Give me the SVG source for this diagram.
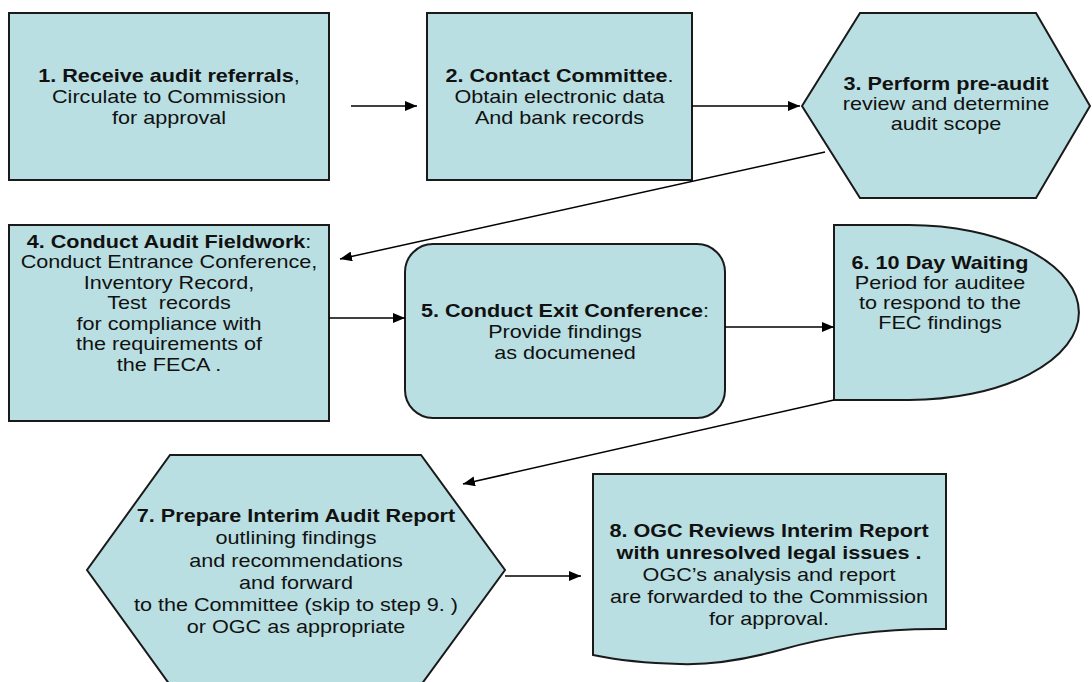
<svg xmlns="http://www.w3.org/2000/svg" width="1092" height="682" viewBox="0 0 1092 682">
<defs>
<marker id="ah" viewBox="0 0 12 10" refX="12" refY="5" markerWidth="12" markerHeight="10" markerUnits="userSpaceOnUse" orient="auto">
<path d="M0,0 L12,5 L0,10 Z" fill="#000"/>
</marker>
<style>
.n{fill:#B9DFE2;stroke:#1a1a1a;stroke-width:2}
.c{fill:none;stroke:#000;stroke-width:1.5}
.t{font-family:"Liberation Sans",Arial,sans-serif;font-size:18px;text-anchor:middle;fill:#111}
.b{font-weight:bold}
</style>
</defs>
<rect width="1092" height="682" fill="#fff"/>

<g id="node1">
<rect class="n" x="9" y="13" width="320" height="167"/>
<text class="t" transform="translate(169 0) scale(1.2 1)"><tspan x="0" y="82"><tspan class="b">1. Receive audit referrals</tspan>,</tspan><tspan x="0" y="103">Circulate to Commission</tspan><tspan x="0" y="124">for approval</tspan></text>
</g>

<g id="node2">
<rect class="n" x="427" y="13" width="265" height="167"/>
<text class="t" transform="translate(559.5 0) scale(1.2 1)"><tspan x="0" y="82"><tspan class="b">2. Contact Committee</tspan>.</tspan><tspan x="0" y="103">Obtain electronic data</tspan><tspan x="0" y="124">And bank records</tspan></text>
</g>

<g id="node3">
<polygon class="n" points="860,13 1036,13 1090,106 1036,198 860,198 802,106"/>
<text class="t" transform="translate(946 0) scale(1.2 1)"><tspan x="0" y="90" class="b">3. Perform pre-audit</tspan><tspan x="0" y="110">review and determine</tspan><tspan x="0" y="130">audit scope</tspan></text>
</g>

<g id="node4">
<rect class="n" x="9" y="225" width="320" height="196"/>
<text class="t" transform="translate(169 0) scale(1.2 1)"><tspan x="0" y="248"><tspan class="b">4. Conduct Audit Fieldwork</tspan>:</tspan><tspan x="0" y="268.5">Conduct Entrance Conference,</tspan><tspan x="0" y="289">Inventory Record,</tspan><tspan x="0" y="309.5">Test&#160; records</tspan><tspan x="0" y="330">for compliance with</tspan><tspan x="0" y="350.5">the requirements of</tspan><tspan x="0" y="371">the FECA .</tspan></text>
</g>

<g id="node5">
<rect class="n" x="405" y="244" width="320" height="174" rx="28" ry="28"/>
<text class="t" transform="translate(565 0) scale(1.2 1)"><tspan x="0" y="317"><tspan class="b">5. Conduct Exit Conference</tspan>:</tspan><tspan x="0" y="338">Provide findings</tspan><tspan x="0" y="359">as documened</tspan></text>
</g>

<g id="node6">
<path class="n" d="M834,225 H909 A170,87.5 0 0 1 909,400 H834 Z"/>
<text class="t" transform="translate(940 0) scale(1.2 1)"><tspan x="0" y="269" class="b">6. 10 Day Waiting</tspan><tspan x="0" y="289">Period for auditee</tspan><tspan x="0" y="309">to respond to the</tspan><tspan x="0" y="329">FEC findings</tspan></text>
</g>

<g id="node7">
<polygon class="n" points="170,455 421,455 505,570 421,685 170,685 87,570"/>
<text class="t" transform="translate(296 0) scale(1.2 1)"><tspan x="0" y="522" class="b">7. Prepare Interim Audit Report</tspan><tspan x="0" y="544">outlining findings</tspan><tspan x="0" y="567">and recommendations</tspan><tspan x="0" y="589">and forward</tspan><tspan x="0" y="611">to the Committee (skip to step 9. )</tspan><tspan x="0" y="633">or OGC as appropriate</tspan></text>
</g>

<g id="node8">
<path class="n" d="M593,474 H946 V629 C880,628 830,636 780,650 C740,661 710,665 680,664 C640,663 612,659 593,655 Z"/>
<text class="t" transform="translate(769 0) scale(1.2 1)"><tspan x="0" y="537" class="b">8. OGC Reviews Interim Report</tspan><tspan x="0" y="559" class="b">with unresolved legal issues .</tspan><tspan x="0" y="581">OGC’s analysis and report</tspan><tspan x="0" y="603">are forwarded to the Commission</tspan><tspan x="0" y="625">for approval.</tspan></text>
</g>

<g id="connectors">
<line class="c" x1="351" y1="106" x2="417" y2="106" marker-end="url(#ah)"/>
<line class="c" x1="692" y1="106" x2="800" y2="106" marker-end="url(#ah)"/>
<line class="c" x1="825" y1="152" x2="340" y2="259" marker-end="url(#ah)"/>
<line class="c" x1="329" y1="318" x2="405" y2="318" marker-end="url(#ah)"/>
<line class="c" x1="725" y1="327" x2="834" y2="327" marker-end="url(#ah)"/>
<line class="c" x1="834" y1="400" x2="463" y2="484" marker-end="url(#ah)"/>
<line class="c" x1="505" y1="576" x2="581" y2="576" marker-end="url(#ah)"/>
</g>
</svg>
